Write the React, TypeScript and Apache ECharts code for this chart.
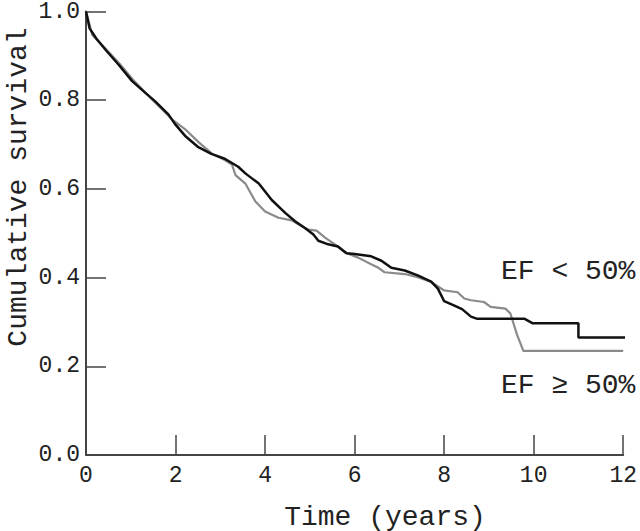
import React, { useEffect, useRef } from "react";
import * as echarts from "echarts";

const xTicks = [0, 2, 4, 6, 8, 10, 12];
const yTicks = [0, 0.2, 0.4, 0.6, 0.8, 1.0];

const efLowTime = [0, 0.08, 0.23, 0.45, 0.73, 1.03, 1.32, 1.54, 1.84, 1.99, 2.21, 2.51, 2.8, 3.1, 3.4, 3.56, 3.86, 4.15, 4.45, 4.67, 4.89, 5.08, 5.19, 5.41, 5.63, 5.82, 6.0, 6.37, 6.6, 6.82, 7.12, 7.41, 7.71, 7.86, 8.0, 8.23, 8.4, 8.6, 8.74, 9.8, 9.98, 11.0, 11.0, 12.18];
const efLowSurv = [1.0, 0.962, 0.939, 0.912, 0.88, 0.843, 0.817, 0.798, 0.768, 0.746, 0.72, 0.694, 0.679, 0.668, 0.65, 0.635, 0.612, 0.575, 0.546, 0.527, 0.512, 0.497, 0.483, 0.475, 0.47, 0.455, 0.453, 0.448, 0.438, 0.422, 0.416, 0.405, 0.391, 0.375, 0.347, 0.337, 0.329, 0.312, 0.307, 0.307, 0.297, 0.297, 0.265, 0.265];

const efHighTime = [0, 0.14, 0.45, 0.75, 1.05, 1.47, 1.92, 2.21, 2.52, 2.82, 3.1, 3.26, 3.34, 3.56, 3.78, 4.0, 4.3, 4.6, 4.74, 4.97, 5.15, 5.34, 5.56, 5.78, 6.08, 6.37, 6.52, 6.67, 7.12, 7.41, 7.71, 8.0, 8.3, 8.45, 8.6, 8.89, 9.04, 9.37, 9.48, 9.63, 9.77, 12.0];
const efHighSurv = [1.0, 0.947, 0.915, 0.882, 0.846, 0.802, 0.757, 0.735, 0.705, 0.679, 0.665, 0.655, 0.631, 0.612, 0.572, 0.549, 0.535, 0.529, 0.52, 0.508, 0.506, 0.49, 0.475, 0.457, 0.445, 0.43, 0.423, 0.412, 0.408, 0.401, 0.39, 0.371, 0.367, 0.353, 0.349, 0.345, 0.334, 0.33, 0.319, 0.271, 0.235, 0.235];

const labels = ["EF < 50%", "EF \u2265 50%"];
const xTitle = "Time (years)";
const yTitle = "Cumulative survival";

const FONT = "'Liberation Mono', 'DejaVu Sans Mono', monospace";

export default function App() {
  const ref = useRef<HTMLDivElement>(null);
  useEffect(() => {
    document.body.style.margin = "0";
    if (!ref.current) return;
    const chart = echarts.init(ref.current, null, { renderer: "svg" });
    const axisColor = "#444";
    chart.setOption({
      animation: false,
      backgroundColor: "#fff",
      grid: { left: 86, right: 13, top: 6, bottom: 76, containLabel: false },
      xAxis: {
        type: "value",
        min: xTicks[0],
        max: xTicks[xTicks.length - 1],
        interval: 2,
        axisLine: { show: true, lineStyle: { color: axisColor, width: 2 } },
        axisTick: { show: true, inside: true, length: 20, lineStyle: { color: axisColor, width: 1.5 } },
        splitLine: { show: false },
        axisLabel: { fontFamily: FONT, fontSize: 23, color: "#222", margin: 9 },
      },
      yAxis: {
        type: "value",
        min: yTicks[0],
        max: yTicks[yTicks.length - 1],
        interval: 0.2,
        axisLine: { show: true, lineStyle: { color: axisColor, width: 2 } },
        axisTick: { show: true, inside: true, length: 20, lineStyle: { color: axisColor, width: 1.5 } },
        splitLine: { show: false },
        axisLabel: {
          fontFamily: FONT,
          fontSize: 23,
          color: "#222",
          margin: 6,
          formatter: (v: number) => v.toFixed(1),
        },
      },
      series: [
        {
          type: "line",
          name: labels[1],
          data: efHighTime.map((t, i) => [t, efHighSurv[i]]),
          showSymbol: false,
          clip: false,
          lineStyle: { color: "#8a8a8a", width: 2.2 },
        },
        {
          type: "line",
          name: labels[0],
          data: efLowTime.map((t, i) => [t, efLowSurv[i]]),
          showSymbol: false,
          clip: false,
          lineStyle: { color: "#111", width: 2.5 },
        },
      ],
      graphic: [
        {
          type: "text",
          x: 385,
          y: 517,
          style: { text: xTitle, font: `28px ${FONT}`, fill: "#222", textAlign: "center", textVerticalAlign: "middle" },
        },
        {
          type: "text",
          x: 18,
          y: 187,
          rotation: Math.PI / 2,
          style: { text: yTitle, font: `28px ${FONT}`, fill: "#222", textAlign: "center", textVerticalAlign: "middle" },
        },
        {
          type: "text",
          x: 501,
          y: 271,
          style: { text: labels[0], font: `28px ${FONT}`, fill: "#222", textAlign: "left", textVerticalAlign: "middle" },
        },
        {
          type: "text",
          x: 501,
          y: 385,
          style: { text: labels[1], font: `28px ${FONT}`, fill: "#222", textAlign: "left", textVerticalAlign: "middle" },
        },
      ],
    });
    return () => chart.dispose();
  }, []);
  return <div ref={ref} style={{ width: 640, height: 531 }} />;
}
